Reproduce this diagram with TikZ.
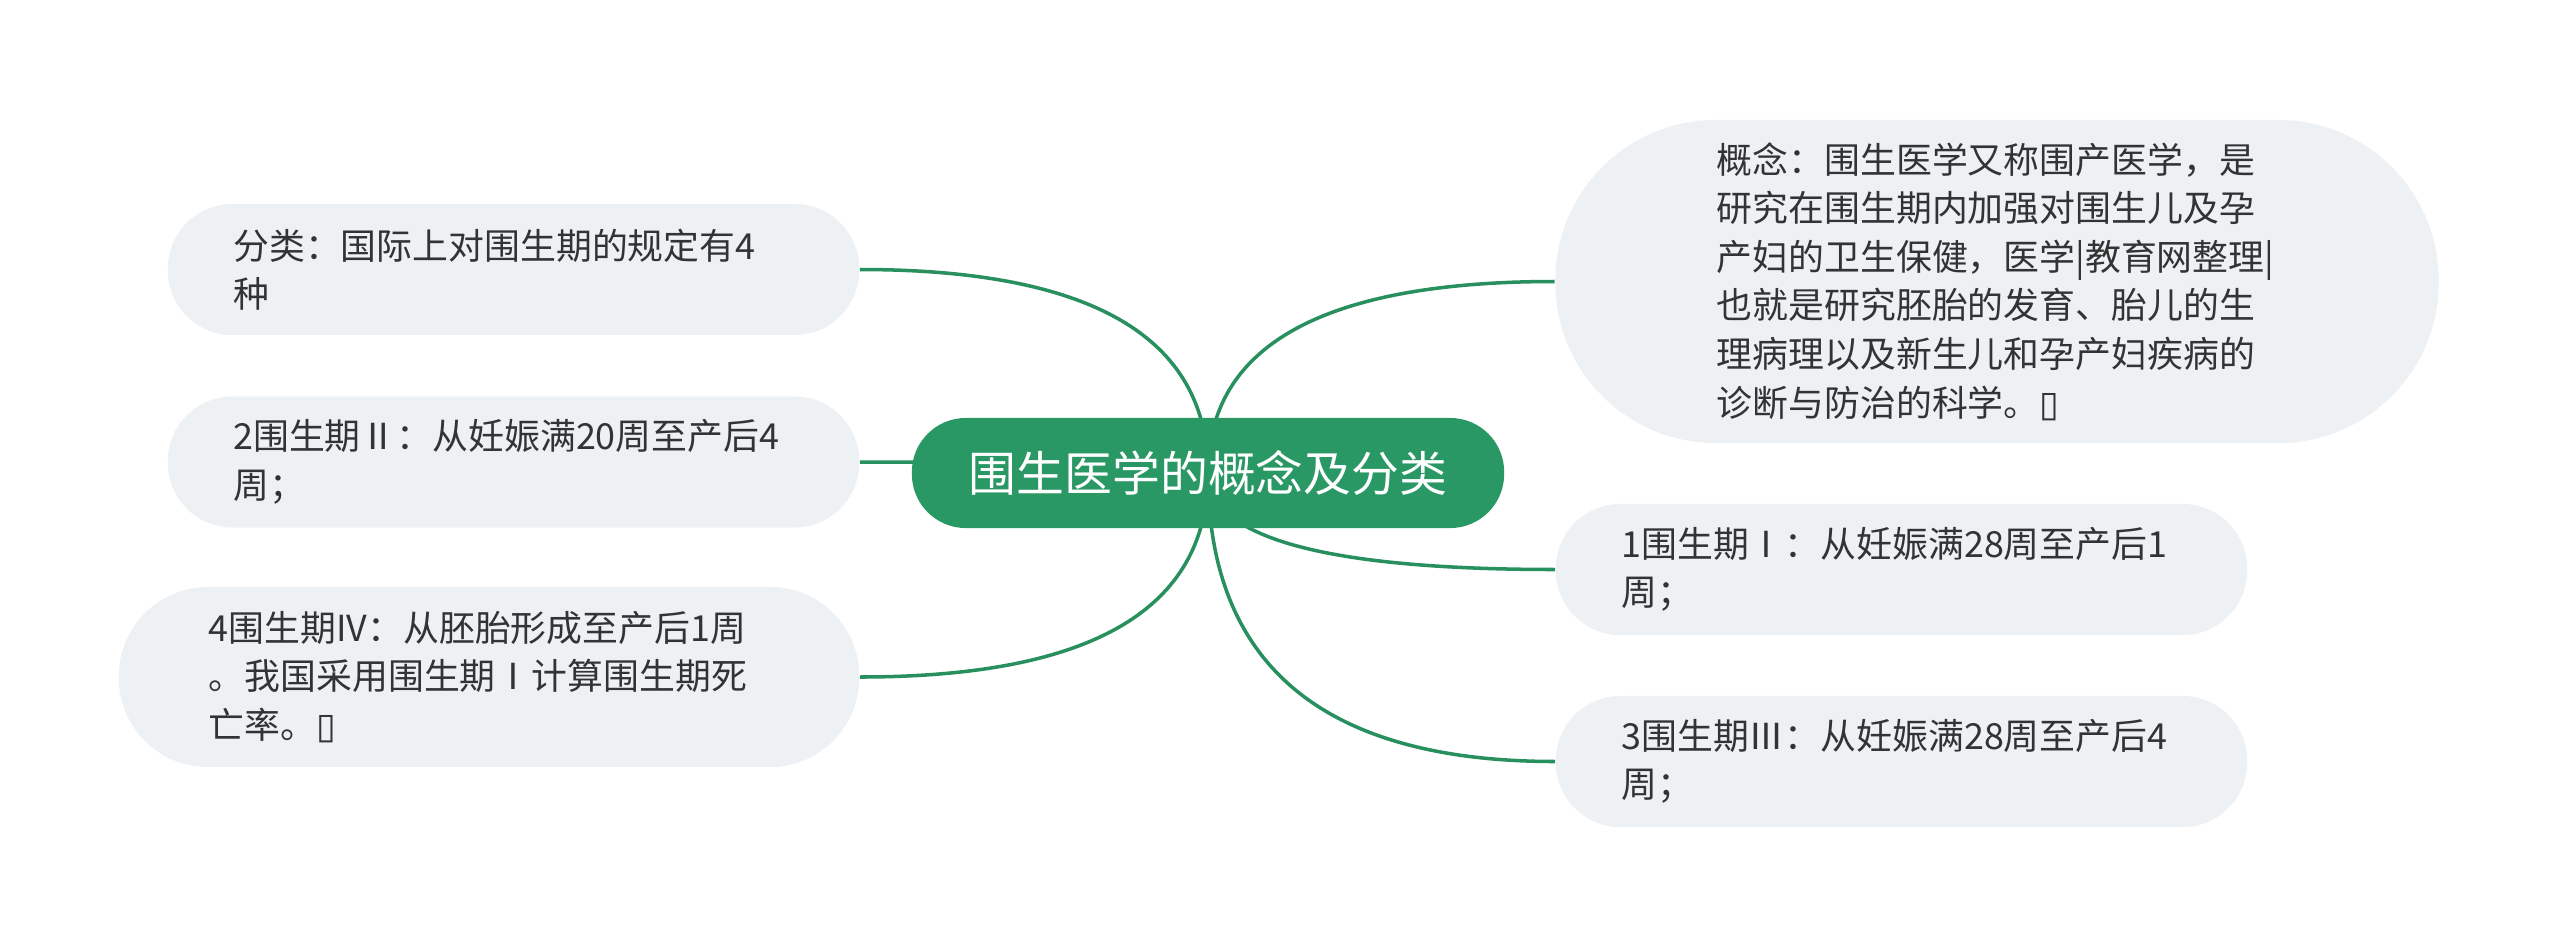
\documentclass[tikz,border=0pt]{standalone}
\usepackage{fontspec}
\setmainfont{Noto Sans CJK SC}
\newfontfamily\symfont{DejaVu Sans}
\usetikzlibrary{backgrounds,calc}
\definecolor{rootgreen}{HTML}{2A9865}
\definecolor{linkgreen}{HTML}{288F5E}
\definecolor{leaffill}{HTML}{EEF1F4}
\definecolor{leafink}{HTML}{333333}
\begin{document}
\begin{tikzpicture}[x=0.01cm,y=-0.01cm,
  leaf/.style={fill=leaffill,text=leafink,text width=5.6cm,align=left,
    font=\fontsize{10.2pt}{13.8pt}\selectfont,inner ysep=0pt,
    minimum height=#1,inner xsep=0.5*#1,rounded corners=0.5*#1-0.3pt},
  link/.style={draw=linkgreen,line width=1pt}]
\useasboundingbox (0,0) rectangle (2560,948);
\node[fill=rootgreen,text=white,font=\fontsize{13.6pt}{16pt}\selectfont,inner sep=0pt,
  minimum width=5.92cm,minimum height=1.1cm,rounded corners=0.55cm-0.3pt]
  (root) at (1208,473) {围生医学的概念及分类};
\node[leaf=1.31cm] (fenlei) at (513.5,269.5) {分类：国际上对围生期的规定有4\\种};
\node[leaf=1.31cm] (zhouqiII) at (513.5,462) {2围生期Ⅱ：从妊娠满20周至产后4\\周；};
\node[leaf=1.8cm] (zhouqiIV) at (489,677)
  {4围生期IV：从胚胎形成至产后1周\\。我国采用围生期Ⅰ计算围生期死\\亡率。{\symfont ▯}};
\node[leaf=3.23cm] (gainian) at (1997,281.5)
  {概念：围生医学又称围产医学，是\\研究在围生期内加强对围生儿及孕\\产妇的卫生保健，医学|教育网整理|\\也就是研究胚胎的发育、胎儿的生\\理病理以及新生儿和孕产妇疾病的\\诊断与防治的科学。{\symfont ▯}};
\node[leaf=1.31cm] (zhouqiI) at (1901.5,569.5) {1围生期Ⅰ：从妊娠满28周至产后1\\周；};
\node[leaf=1.31cm] (zhouqiIII) at (1901.5,761.5) {3围生期Ⅲ：从妊娠满28周至产后4\\周；};
\begin{scope}[on background layer]
\foreach \n/\a in {fenlei/east,zhouqiII/east,zhouqiIV/east,
                   gainian/west,zhouqiI/west,zhouqiIII/west}
  \draw[link] (root.center)
    .. controls ($(root.center)!2/3!(root.center |- \n.\a)$)
            and ($(\n.\a)!2/3!(root.center |- \n.\a)$) .. (\n.\a);
\end{scope}
\end{tikzpicture}
\end{document}
